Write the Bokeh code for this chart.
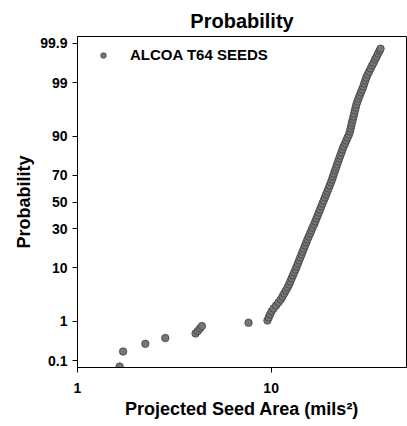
from statistics import NormalDist
from bokeh.plotting import figure
from bokeh.models import Range1d, FixedTicker, Legend, LegendItem
from bokeh.embed import file_html
from bokeh.resources import INLINE

# Projected seed area (mils^2) and cumulative probability (%)
seed_area = [1.65, 1.72, 2.24, 2.84, 4.07, 4.18, 4.29, 4.39, 7.64,
             9.57, 9.72, 9.87, 10.04, 10.29, 10.60, 10.91, 11.21, 11.44, 11.68,
             11.92, 12.16, 12.37, 12.56, 12.75, 12.95, 13.15, 13.36, 13.55, 13.75,
             13.94, 14.14, 14.35, 14.55, 14.76, 14.97, 15.19, 15.40, 15.63, 15.89,
             16.13, 16.38, 16.66, 16.90, 17.14, 17.39, 17.64, 17.89, 18.15, 18.41,
             18.69, 18.96, 19.23, 19.51, 19.79, 20.07, 20.36, 20.63, 20.87, 21.12,
             21.38, 21.66, 21.91, 22.18, 22.47, 22.76, 23.06, 23.36, 23.67, 24.07,
             24.44, 24.82, 25.24, 25.51, 25.72, 25.94, 26.15, 26.40, 26.62, 26.85,
             27.07, 27.33, 27.56, 27.88, 28.25, 28.66, 29.07, 29.48, 29.91, 30.26,
             30.63, 31.03, 31.51, 32.08, 32.65, 33.24, 33.84, 34.44, 35.06, 35.65,
             36.29, 36.72]
cum_prob = [0.067, 0.178, 0.285, 0.40, 0.52, 0.595, 0.683, 0.78, 0.93,
            1.04, 1.22, 1.42, 1.64, 1.89, 2.18, 2.51, 2.87, 3.27, 3.72,
            4.23, 4.78, 5.39, 6.06, 6.80, 7.59, 8.47, 9.40, 10.44, 11.53,
            12.71, 13.96, 15.32, 16.73, 18.25, 19.82, 21.51, 23.24, 25.05, 26.96,
            28.91, 30.96, 33.03, 35.20, 37.37, 39.63, 41.88, 44.20, 46.49, 48.84,
            51.16, 53.51, 55.80, 58.12, 60.37, 62.63, 64.80, 66.97, 69.04, 71.09,
            73.04, 74.95, 76.76, 78.49, 80.18, 81.75, 83.27, 84.68, 86.04, 87.29,
            88.47, 89.56, 90.60, 91.53, 92.41, 93.20, 93.94, 94.61, 95.22, 95.77,
            96.28, 96.73, 97.13, 97.49, 97.82, 98.11, 98.36, 98.58, 98.78, 98.96,
            99.11, 99.24, 99.35, 99.45, 99.54, 99.61, 99.67, 99.73, 99.77, 99.81,
            99.84, 99.86]

prob_ticks = [0.1, 1, 10, 30, 50, 70, 90, 99, 99.9]
prob_tick_labels = ["0.1", "1", "10", "30", "50", "70", "90", "99", "99.9"]
area_ticks = [1, 10]
area_tick_labels = ["1", "10"]
series_name = "ALCOA T64 SEEDS"

# normal-probability (probit) scale
nd = NormalDist()
z_vals = [nd.inv_cdf(v / 100.0) for v in cum_prob]
z_ticks = [nd.inv_cdf(v / 100.0) for v in prob_ticks]

FONT = "Liberation Sans"

p = figure(width=407, height=426, x_axis_type="log",
           x_range=Range1d(1, 50), y_range=Range1d(-3.226, 3.226),
           output_backend="svg", toolbar_location=None,
           min_border_left=77, min_border_right=1, min_border_top=36,
           min_border_bottom=59, title="Probability")

p.title.align = "center"
p.title.text_font = FONT
p.title.text_font_size = "20px"
p.title.text_font_style = "bold"
p.title.text_color = "black"
p.title.standoff = 9

p.outline_line_color = "black"
p.outline_line_width = 1
p.xgrid.visible = False
p.ygrid.visible = False
p.background_fill_color = "white"
p.border_fill_color = "white"

r = p.scatter(seed_area, z_vals, size=7.5, marker="circle",
              fill_color="#767676", line_color="#3a3a3a", line_width=0.7)

# axes
p.xaxis.ticker = FixedTicker(ticks=area_ticks, minor_ticks=[])
p.xaxis.major_label_overrides = {float(t): lab for t, lab in zip(area_ticks, area_tick_labels)}
p.yaxis.ticker = FixedTicker(ticks=z_ticks, minor_ticks=[])
p.yaxis.major_label_overrides = {t: lab for t, lab in zip(z_ticks, prob_tick_labels)}

for ax in (p.xaxis[0], p.yaxis[0]):
    ax.axis_line_color = "black"
    ax.major_tick_line_color = "black"
    ax.major_tick_in = 0
    ax.major_tick_out = 5
    ax.minor_tick_line_color = None
    ax.major_label_text_font = FONT
    ax.major_label_text_font_style = "bold"
    ax.major_label_text_font_size = "14px"
    ax.major_label_text_color = "black"
    ax.axis_label_text_font = FONT
    ax.axis_label_text_font_style = "bold"
    ax.axis_label_text_font_size = "18px"
    ax.axis_label_text_color = "black"

p.xaxis.axis_label = "Projected Seed Area (mils²)"
p.yaxis.axis_label = "Probability"
p.xaxis.major_label_standoff = 10
p.yaxis.major_label_standoff = 5
p.xaxis.axis_label_standoff = 3
p.yaxis.axis_label_standoff = 3

legend = Legend(items=[LegendItem(label=series_name, renderers=[r])],
                location="top_left", margin=10, padding=0,
                glyph_width=32, glyph_height=14, label_height=14,
                label_standoff=11, border_line_color=None,
                background_fill_alpha=0,
                label_text_font=FONT, label_text_font_style="bold",
                label_text_font_size="15px", label_text_color="black")
p.add_layout(legend)

open("out.html", "w").write(file_html(p, INLINE))
